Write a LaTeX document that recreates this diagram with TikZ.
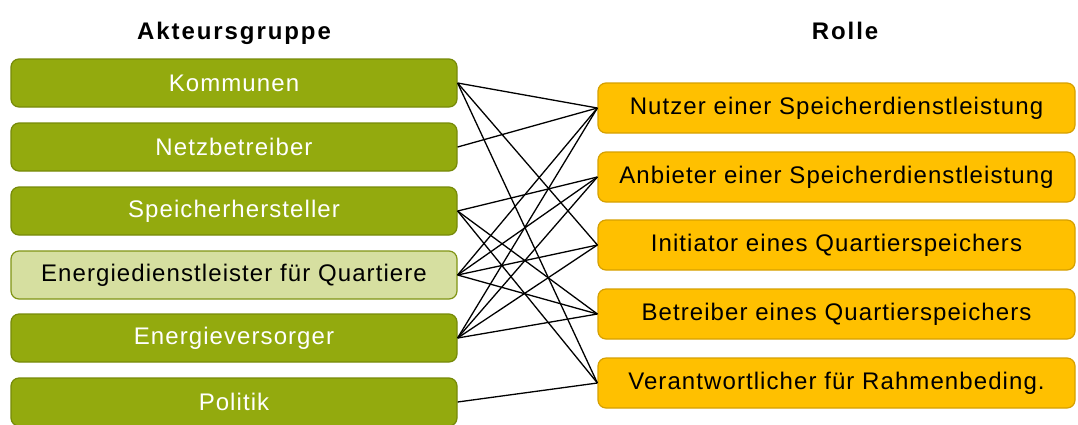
\documentclass[tikz,border=0pt]{standalone}
\usepackage{fontspec}
\setmainfont{Liberation Sans}
\definecolor{grfill}{RGB}{147,170,14}
\definecolor{grdraw}{RGB}{118,138,8}
\definecolor{lgfill}{RGB}{214,223,160}
\definecolor{lgdraw}{RGB}{128,148,20}
\definecolor{orfill}{RGB}{255,192,0}
\definecolor{ordraw}{RGB}{214,160,0}
\newfontfamily\boxfont[LetterSpace=4.5]{Liberation Sans}
\newfontfamily\headfont[LetterSpace=8]{Liberation Sans}
\tikzset{
  actor/.style={draw=grdraw, fill=grfill, line width=1.2pt, rounded corners=8pt,
    minimum width=446pt, minimum height=48pt, text=white, font=\boxfont\fontsize{24}{28}\selectfont, inner sep=0pt},
  actorlight/.style={actor, fill=lgfill, draw=lgdraw, text=black},
  role/.style={draw=ordraw, fill=orfill, line width=1.2pt, rounded corners=8pt,
    minimum width=477pt, minimum height=50pt, text=black, font=\boxfont\fontsize{24}{28}\selectfont, inner sep=0pt},
  head/.style={font=\headfont\bfseries\fontsize{24}{28}\selectfont, anchor=base},
  link/.style={draw=black, line width=1.3pt}
}
\begin{document}
\begin{tikzpicture}[x=1pt,y=-1pt]
\useasboundingbox (0,0) rectangle (1078,424);
\clip (0,0) rectangle (1078,424);
\node[head] (h1) at (234,39) {Akteursgruppe};
\node[head] (h2) at (845,39) {Rolle};
\node[actor] (k) at (234,83) {Kommunen};
\node[actor] (n) at (234,147) {Netzbetreiber};
\node[actor] (s) at (234,211) {Speicherhersteller};
\node[actorlight] (e) at (234,275) {Energiedienstleister für Quartiere};
\node[actor] (v) at (234,338) {Energieversorger};
\node[actor] (p) at (234,402) {Politik};
\node[role] (nu) at (836.5,108) {Nutzer einer Speicherdienstleistung};
\node[role] (an) at (836.5,177) {Anbieter einer Speicherdienstleistung};
\node[role] (in) at (836.5,245) {Initiator eines Quartierspeichers};
\node[role] (be) at (836.5,314) {Betreiber eines Quartierspeichers};
\node[role] (ve) at (836.5,383) {Verantwortlicher für Rahmenbeding.};
\foreach \a/\b in {k/nu,k/in,k/ve,n/nu,s/an,s/be,s/ve,e/nu,e/an,e/in,e/be,v/nu,v/an,v/in,v/be,p/ve}
  \draw[link] (\a.east) -- (\b.west);
\end{tikzpicture}
\end{document}
